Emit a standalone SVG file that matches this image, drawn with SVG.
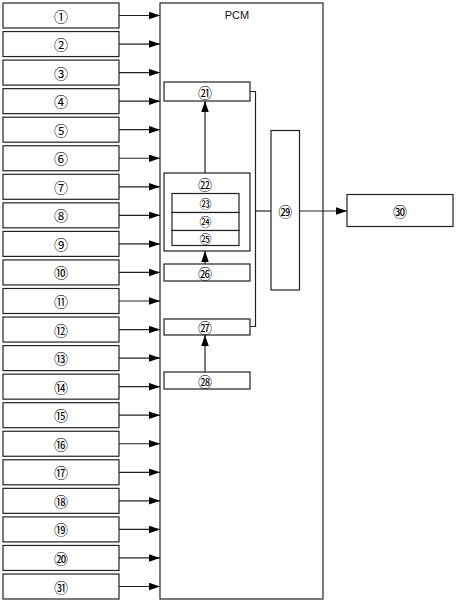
<svg xmlns="http://www.w3.org/2000/svg" width="457" height="603" viewBox="0 0 457 603">
<defs>
<style>
.b{fill:#fff;stroke:#222;stroke-width:1.2}
.c{fill:none;stroke:#222;stroke-width:1.2}
.n{font-family:"Noto Sans CJK JP","DejaVu Sans",sans-serif;font-size:14px;fill:#000;text-anchor:middle;dominant-baseline:central}
.s{font-size:12px}
.t{font-family:"Liberation Sans",Arial,sans-serif;font-size:11px;fill:#111;text-anchor:middle}
</style>
<marker id="ah" markerUnits="userSpaceOnUse" markerWidth="12" markerHeight="8" refX="11" refY="3.75" orient="auto"><path d="M0,0 L11,3.75 L0,7.5 z" fill="#000"/></marker>
</defs>
<g id="pcm"><rect class="b" x="160" y="3" width="163" height="596"/><text class="t" x="237" y="19">PCM</text></g>
<g id="n1"><rect class="b" x="3" y="3" width="116" height="25"/><text class="n" x="61" y="15.5">①</text></g>
<g id="n2"><rect class="b" x="3" y="31.55" width="116" height="25"/><text class="n" x="61" y="44.05">②</text></g>
<g id="n3"><rect class="b" x="3" y="60.1" width="116" height="25"/><text class="n" x="61" y="72.6">③</text></g>
<g id="n4"><rect class="b" x="3" y="88.65" width="116" height="25"/><text class="n" x="61" y="101.15">④</text></g>
<g id="n5"><rect class="b" x="3" y="117.2" width="116" height="25"/><text class="n" x="61" y="129.7">⑤</text></g>
<g id="n6"><rect class="b" x="3" y="145.75" width="116" height="25"/><text class="n" x="61" y="158.25">⑥</text></g>
<g id="n7"><rect class="b" x="3" y="174.3" width="116" height="25"/><text class="n" x="61" y="186.8">⑦</text></g>
<g id="n8"><rect class="b" x="3" y="202.85" width="116" height="25"/><text class="n" x="61" y="215.35">⑧</text></g>
<g id="n9"><rect class="b" x="3" y="231.4" width="116" height="25"/><text class="n" x="61" y="243.9">⑨</text></g>
<g id="n10"><rect class="b" x="3" y="259.95" width="116" height="25"/><text class="n" x="61" y="272.45">⑩</text></g>
<g id="n11"><rect class="b" x="3" y="288.5" width="116" height="25"/><text class="n" x="61" y="301">⑪</text></g>
<g id="n12"><rect class="b" x="3" y="317.05" width="116" height="25"/><text class="n" x="61" y="329.55">⑫</text></g>
<g id="n13"><rect class="b" x="3" y="345.6" width="116" height="25"/><text class="n" x="61" y="358.1">⑬</text></g>
<g id="n14"><rect class="b" x="3" y="374.15" width="116" height="25"/><text class="n" x="61" y="386.65">⑭</text></g>
<g id="n15"><rect class="b" x="3" y="402.7" width="116" height="25"/><text class="n" x="61" y="415.2">⑮</text></g>
<g id="n16"><rect class="b" x="3" y="431.25" width="116" height="25"/><text class="n" x="61" y="443.75">⑯</text></g>
<g id="n17"><rect class="b" x="3" y="459.8" width="116" height="25"/><text class="n" x="61" y="472.3">⑰</text></g>
<g id="n18"><rect class="b" x="3" y="488.35" width="116" height="25"/><text class="n" x="61" y="500.85">⑱</text></g>
<g id="n19"><rect class="b" x="3" y="516.9" width="116" height="25"/><text class="n" x="61" y="529.4">⑲</text></g>
<g id="n20"><rect class="b" x="3" y="545.45" width="116" height="25"/><text class="n" x="61" y="557.95">⑳</text></g>
<g id="n31"><rect class="b" x="3" y="574" width="116" height="25"/><text class="n" x="61" y="586.5">㉛</text></g>
<g id="n21"><rect class="b" x="164" y="82" width="86" height="19"/><text class="n" x="205" y="91.5">㉑</text></g>
<g id="n22"><rect class="b" x="164" y="173" width="86" height="78"/><text class="n" x="205" y="184">㉒</text></g>
<g id="n23"><rect class="b" x="172" y="193.5" width="67" height="19"/><text class="n s" x="205.5" y="203">㉓</text></g>
<g id="n24"><rect class="b" x="172" y="212.5" width="67" height="18"/><text class="n s" x="205.5" y="221.5">㉔</text></g>
<g id="n25"><rect class="b" x="172" y="230.5" width="67" height="15"/><text class="n s" x="205.5" y="238">㉕</text></g>
<g id="n26"><rect class="b" x="164" y="264" width="86" height="17"/><text class="n" x="205" y="272.5">㉖</text></g>
<g id="n27"><rect class="b" x="164" y="319" width="86" height="16"/><text class="n" x="205" y="327">㉗</text></g>
<g id="n28"><rect class="b" x="164" y="372" width="86" height="17"/><text class="n" x="205" y="380.5">㉘</text></g>
<g id="n29"><rect class="b" x="271" y="130.5" width="28.5" height="159.5"/><text class="n" x="285.25" y="211">㉙</text></g>
<g id="n30"><rect class="b" x="347" y="194.5" width="106" height="32"/><text class="n" x="400" y="210.5">㉚</text></g>
<g id="connectors">
<path class="c" marker-end="url(#ah)" d="M119,15.5H160"/>
<path class="c" marker-end="url(#ah)" d="M119,44.05H160"/>
<path class="c" marker-end="url(#ah)" d="M119,72.6H160"/>
<path class="c" marker-end="url(#ah)" d="M119,101.15H160"/>
<path class="c" marker-end="url(#ah)" d="M119,129.7H160"/>
<path class="c" marker-end="url(#ah)" d="M119,158.25H160"/>
<path class="c" marker-end="url(#ah)" d="M119,186.8H160"/>
<path class="c" marker-end="url(#ah)" d="M119,215.35H160"/>
<path class="c" marker-end="url(#ah)" d="M119,243.9H160"/>
<path class="c" marker-end="url(#ah)" d="M119,272.45H160"/>
<path class="c" marker-end="url(#ah)" d="M119,301H160"/>
<path class="c" marker-end="url(#ah)" d="M119,329.55H160"/>
<path class="c" marker-end="url(#ah)" d="M119,358.1H160"/>
<path class="c" marker-end="url(#ah)" d="M119,386.65H160"/>
<path class="c" marker-end="url(#ah)" d="M119,415.2H160"/>
<path class="c" marker-end="url(#ah)" d="M119,443.75H160"/>
<path class="c" marker-end="url(#ah)" d="M119,472.3H160"/>
<path class="c" marker-end="url(#ah)" d="M119,500.85H160"/>
<path class="c" marker-end="url(#ah)" d="M119,529.4H160"/>
<path class="c" marker-end="url(#ah)" d="M119,557.95H160"/>
<path class="c" marker-end="url(#ah)" d="M119,586.5H160"/>
<path class="c" marker-end="url(#ah)" d="M205,173V101"/>
<path class="c" marker-end="url(#ah)" d="M205,264V251"/>
<path class="c" marker-end="url(#ah)" d="M205,372V335"/>
<path class="c" d="M250,91.5H255.5V326.5H250"/>
<path class="c" d="M255.5,211H271"/>
<path class="c" marker-end="url(#ah)" d="M299.5,211H347"/>
</g>
</svg>
